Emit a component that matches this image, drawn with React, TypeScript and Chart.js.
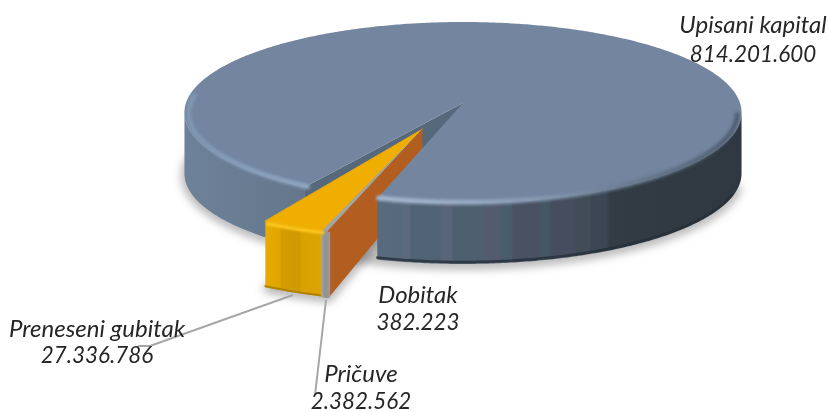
import React, { useEffect, useRef } from "react";
import { Chart, registerables } from "chart.js";

Chart.register(...registerables);

const categories = ["Upisani kapital", "Dobitak", "Pričuve", "Preneseni gubitak"];
const amounts = [814201600, 382223, 2382562, 27336786];
const sliceColors = ["#73859F", "#B25E20", "#A5A5A5", "#F0AE00"];

const fmt = (n: number) => String(n).replace(/\B(?=(\d{3})+(?!\d))/g, ".");

// projection of the flat pie on to the page
const CX = 463, CY = 103, RX = 277, RY = 89.5, K = 0.105, H = 61, WEDGE_H = 66, WEDGE_APEX_H = 55;
const DX = -0.142, DY = 0.285, GAP = 0.04;

function project(u: number, v: number, z: number): [number, number] {
  const w = 1 - K * v;
  return [CX + (RX * u) / w, CY + (RY * v) / w + z];
}
function rim(a0: number, a1: number, du: number, dv: number, z: number, r = 1) {
  const pts: [number, number][] = [];
  const n = Math.max(2, Math.ceil(Math.abs(a1 - a0) / 0.01));
  for (let i = 0; i <= n; i++) {
    const a = a0 + ((a1 - a0) * i) / n;
    pts.push(project(Math.cos(a) * r + du, Math.sin(a) * r + dv, z));
  }
  return pts;
}
function trace(ctx: CanvasRenderingContext2D, pts: [number, number][], close = true) {
  ctx.beginPath();
  pts.forEach((p, i) => (i ? ctx.lineTo(p[0], p[1]) : ctx.moveTo(p[0], p[1])));
  if (close) ctx.closePath();
}
function hgrad(ctx: CanvasRenderingContext2D, x0: number, x1: number, stops: [number, string][]) {
  const g = ctx.createLinearGradient(x0, 0, x1, 0);
  stops.forEach(([x, c]) => g.addColorStop((x - x0) / (x1 - x0), c));
  return g;
}
function wall(ctx: CanvasRenderingContext2D, a0: number, a1: number, du: number, dv: number, h: number, fill: any) {
  const top = rim(a0, a1, du, dv, 0);
  const bot = rim(a0, a1, du, dv, h).reverse();
  trace(ctx, [...top, ...bot]);
  ctx.fillStyle = fill;
  ctx.fill();
}

const pie3d = {
  id: "pie3d",
  beforeDatasetDraw(chart: any) {
    const ctx: CanvasRenderingContext2D = chart.ctx;
    const arcs = chart.getDatasetMeta(0).data;
    const main = arcs[0];
    const [dob, pri, pre] = [arcs[1], arcs[2], arcs[3]];
    const a0 = main.startAngle + GAP, a1 = main.endAngle;
    const TAU = Math.PI * 2;
    const apex = project(0, 0, 0);
    const wedgeApex = project(DX, DY, 0);
    ctx.save();
    ctx.lineJoin = "round";
    ctx.lineCap = "round";

    // soft ground shadows
    ctx.save();
    ctx.filter = "blur(5px)";
    ctx.fillStyle = "rgba(0,0,0,0.22)";
    ctx.strokeStyle = "rgba(0,0,0,0.22)";
    ctx.lineWidth = 7;
    trace(ctx, rim(0.25, Math.PI + 0.1, 0, 0, H + 2));
    ctx.fill();
    ctx.stroke();
    trace(ctx, rim(dob.startAngle, pre.endAngle, DX, DY, WEDGE_H + 2).concat([project(DX, DY, WEDGE_H - 10)]));
    ctx.fill();
    ctx.stroke();
    ctx.restore();
    ctx.fillStyle = "#ffffff";
    trace(ctx, rim(0, TAU, 0, 0, 0));
    ctx.fill();

    // exposed radial face inside the gap
    const cut = project(Math.cos(a0), Math.sin(a0), 0);
    trace(ctx, [apex, cut, [cut[0], cut[1] + H], [apex[0], apex[1] + H]]);
    ctx.fillStyle = "#55687C";
    ctx.fill();

    // orange radial wall of the pulled-out wedge
    const wedgeR = project(Math.cos(dob.startAngle) + DX, Math.sin(dob.startAngle) + DY, 0);
    trace(ctx, [wedgeApex, wedgeR, [wedgeR[0], wedgeR[1] + WEDGE_H], [wedgeApex[0], wedgeApex[1] + WEDGE_APEX_H]]);
    ctx.fillStyle = dob.options.backgroundColor;
    ctx.fill();

    // main top face
    trace(ctx, [apex, ...rim(a0, a1, 0, 0, 0)]);
    ctx.fillStyle = main.options.backgroundColor;
    ctx.fill();

    // main outer wall, left and right runs
    const wallFill = hgrad(ctx, 185, 742, [
      [185, "#6D8198"], [300, "#64778D"], [372, "#586B7F"], [400, "#566A7C"], [402, "#5B6A7F"], [410, "#5B6A7F"],
      [411, "#506375"], [440, "#506375"], [441, "#586479"], [452, "#586479"], [453, "#4E6070"], [482, "#4E6070"],
      [484, "#525C6E"], [499, "#525C6E"], [501, "#4A5D6D"], [511, "#4A5D6D"], [513, "#4A5162"], [539, "#4A5162"],
      [541, "#465663"], [549, "#465663"], [551, "#454D5E"], [574, "#454D5E"], [576, "#424C57"], [589, "#424C57"],
      [591, "#3D4655"], [606, "#3D4655"], [610, "#333C45"], [742, "#2F3840"],
    ]);
    const edgeA = Math.asin(K);
    wall(ctx, a0, Math.PI - edgeA, 0, 0, H, wallFill);
    wall(ctx, TAU + edgeA, a1, 0, 0, H, wallFill);

    // dark lower edge of the right run
    ctx.save();
    ctx.filter = "blur(0.7px)";
    ctx.strokeStyle = "rgba(38,47,56,0.8)";
    ctx.lineWidth = 2.5;
    trace(ctx, rim(TAU + edgeA + 0.25, a1, 0, 0, H - 2), false);
    ctx.stroke();
    // bevel along the rim of the top face
    ctx.filter = "blur(1.4px)";
    ctx.strokeStyle = hgrad(ctx, 185, 742, [
      [185, "#7F97B2"], [300, "#90A6C0"], [380, "#A6B9D0"], [470, "#97ABC3"], [560, "#7F92A9"], [640, "#66778B"], [742, "#4E5D70"],
    ]);
    ctx.lineWidth = 5;
    trace(ctx, rim(a0, Math.PI + 0.1, 0, 0, 1, 0.985), false);
    ctx.stroke();
    trace(ctx, rim(TAU + 0.12, a1, 0, 0, 1, 0.985), false);
    ctx.stroke();
    ctx.restore();

    // wedge outer walls
    const yellow = hgrad(ctx, 262, 328, [
      [262, "#E8AC00"], [280, "#E0A600"], [281, "#D49C00"], [300, "#CF9900"], [301, "#D9A200"], [328, "#DFA500"],
    ]);
    wall(ctx, pre.startAngle, pre.endAngle, DX, DY, WEDGE_H, yellow);
    ctx.strokeStyle = "#B08200";
    ctx.lineWidth = 2;
    trace(ctx, rim(pre.startAngle, pre.endAngle, DX, DY, WEDGE_H - 1), false);
    ctx.stroke();
    const grey = hgrad(ctx, 319, 331, [[319, "#B4B4B4"], [325, "#909090"], [331, "#9C9C9C"]]);
    ctx.strokeStyle = grey;
    ctx.fillStyle = grey;
    ctx.lineWidth = 4;
    const gTop = rim(pri.startAngle, pri.endAngle, DX, DY, 2);
    const gBot = rim(pri.startAngle, pri.endAngle, DX, DY, WEDGE_H - 1).reverse();
    trace(ctx, [...gTop, ...gBot]);
    ctx.fill();
    ctx.stroke();

    // wedge top faces
    [pre, pri, dob].forEach((s: any) => {
      trace(ctx, [wedgeApex, ...rim(s.startAngle, s.endAngle, DX, DY, 0)]);
      ctx.fillStyle = s.options.backgroundColor;
      ctx.strokeStyle = s.options.backgroundColor;
      ctx.lineWidth = 1;
      ctx.fill();
      ctx.stroke();
    });
    // bright bevel of the yellow wall
    ctx.save();
    ctx.filter = "blur(0.8px)";
    ctx.strokeStyle = "#FFC81E";
    ctx.lineWidth = 3.5;
    trace(ctx, rim(pre.startAngle, pre.endAngle - 0.01, DX, DY, 2), false);
    ctx.stroke();
    ctx.restore();
    ctx.restore();
    return false;
  },
  afterDatasetsDraw(chart: any) {
    const ctx: CanvasRenderingContext2D = chart.ctx;
    const labels: string[] = chart.data.labels;
    const vals: number[] = chart.data.datasets[0].data;
    ctx.save();
    // leader lines
    ctx.strokeStyle = "#A6A6A6";
    ctx.lineWidth = 2;
    ctx.beginPath();
    ctx.moveTo(293, 295);
    ctx.lineTo(150, 346);
    ctx.lineTo(138, 346);
    ctx.moveTo(326, 300);
    ctx.lineTo(315, 395);
    ctx.stroke();

    ctx.fillStyle = "#262626";
    ctx.textAlign = "center";
    ctx.textBaseline = "middle";
    const place = [
      [753, 25, 55],
      [418, 295, 323],
      [361, 374, 402],
      [97, 329, 356],
    ];
    labels.forEach((t, i) => {
      const [x, y1, y2] = place[i];
      ctx.font = "italic 24px Lato";
      ctx.fillText(t, x, y1);
      ctx.font = "italic 22.4px Lato";
      ctx.fillText(fmt(vals[i]), x, y2);
    });
    ctx.restore();
  },
};

export default function App() {
  const ref = useRef<HTMLCanvasElement>(null);
  useEffect(() => {
    const chart = new Chart(ref.current!, {
      type: "pie",
      data: {
        labels: categories,
        datasets: [{ data: amounts, backgroundColor: sliceColors, borderWidth: 0 }],
      },
      options: {
        responsive: false,
        animation: false,
        rotation: 209,
        plugins: { legend: { display: false }, tooltip: { enabled: false } },
      },
      plugins: [pie3d],
    });
    return () => chart.destroy();
  }, []);
  return (
    <canvas
      ref={ref}
      width={828}
      height={412}
      style={{ position: "fixed", left: 0, top: 0, width: 828, height: 412, display: "block", filter: "blur(0.45px)" }}
    />
  );
}
